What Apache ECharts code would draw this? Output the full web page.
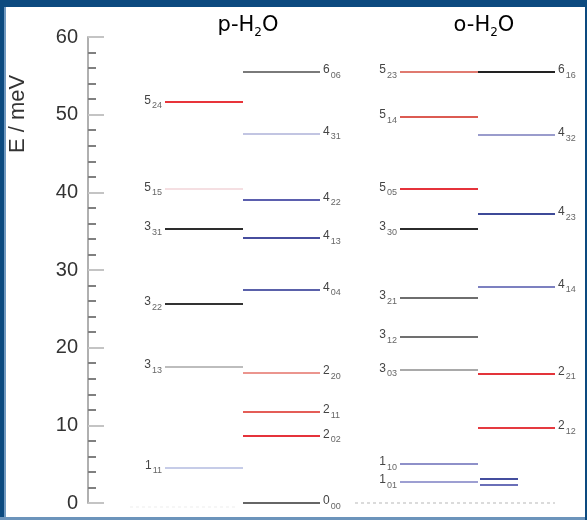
<!DOCTYPE html>
<html>
<head>
<meta charset="utf-8">
<script src="https://cdn.jsdelivr.net/npm/echarts@6/dist/echarts.min.js"></script>
<style>
html,body{margin:0;padding:0;background:#fff;}
#chart{width:587px;height:520px;}
</style>
</head>
<body>
<div id="chart"></div>
<script>
// ---------- DATA ----------
var yTicks = [0, 10, 20, 30, 40, 50, 60];
var paraLeftLabels = ['5_24', '5_15', '3_31', '3_22', '3_13', '1_11'];
var paraLeftE      = [51.6, 40.4, 35.3, 25.6, 17.5, 4.6];
var paraRightLabels = ['6_06', '4_31', '4_22', '4_13', '4_04', '2_20', '2_11', '2_02', '0_00'];
var paraRightE      = [55.5, 47.6, 39.1, 34.1, 27.5, 16.8, 11.7, 8.6, 0];
var orthoLeftLabels = ['5_23', '5_14', '5_05', '3_30', '3_21', '3_12', '3_03', '1_10', '1_01'];
var orthoLeftE      = [55.5, 49.7, 40.4, 35.3, 26.4, 21.4, 17.1, 5.0, 2.7];
var orthoRightLabels = ['6_16', '4_32', '4_23', '4_14', '2_21', '2_12'];
var orthoRightE      = [55.5, 47.4, 37.2, 27.9, 16.7, 9.7];
var orthoSplitE = [3.1, 2.4];
var zeroE = 0;

// ---------- STYLE ----------
var paraLeftColors  = ['#e8343a', '#f5dfe2', '#2d2d2d', '#333333', '#bdbdbd', '#c6cce8'];
var paraRightColors = ['#7a7a7a', '#c2c5e2', '#5b5fae', '#474d9e', '#5a61aa', '#eb958e', '#e45d57', '#e5333b', '#666666'];
var orthoLeftColors = ['#e07a70', '#dc5b52', '#e5333b', '#2b2b2b', '#6e6e6e', '#707070', '#a9a9a9', '#8e90c9', '#9d9fd2'];
var orthoRightColors = ['#222222', '#9a9ccc', '#3e4a98', '#7c80c0', '#e3343a', '#e53a40'];
var orthoSplitColors = ['#444e9e', '#6a6fb8'];

// column extents in the hidden x scale (layout)
var COL = {
  pl: [165, 243],
  pr: [243, 320],
  ol: [400, 478],
  or: [478, 555],
  split: [480, 518]
};

function lab(s) {
  var p = s.split('_');
  return '{n|' + p[0] + '}{s|' + p[1] + '}';
}

var richLab = {
  n: { fontSize: 12, color: '#444', fontFamily: 'Liberation Sans', lineHeight: 16, verticalAlign: 'top' },
  s: { fontSize: 9, color: '#666', fontFamily: 'Liberation Sans', lineHeight: 16, verticalAlign: 'bottom', padding: [6, 0, 0, 1] }
};

function buildItems(labels, energies, colors, ext, side) {
  return energies.map(function (e, i) {
    var item = {
      coords: [[ext[0], e], [ext[1], e]],
      lineStyle: { color: colors[i], width: 2, type: 'solid', opacity: 1 }
    };
    if (labels) {
      item.label = {
        show: true,
        position: side,
        distance: 3,
        formatter: lab(labels[i]),
        rich: richLab
      };
    } else {
      item.label = { show: false };
    }
    return item;
  });
}

var data = []
  .concat(buildItems(paraLeftLabels, paraLeftE, paraLeftColors, COL.pl, 'start'))
  .concat(buildItems(paraRightLabels, paraRightE, paraRightColors, COL.pr, 'end'))
  .concat(buildItems(orthoLeftLabels, orthoLeftE, orthoLeftColors, COL.ol, 'start'))
  .concat(buildItems(orthoRightLabels, orthoRightE, orthoRightColors, COL.or, 'end'))
  .concat(buildItems(null, orthoSplitE, orthoSplitColors, COL.split, 'end'));

var dotted = [
  { coords: [[355, zeroE], [555, zeroE]], lineStyle: { color: '#b8b8b8', width: 2, type: [3, 3] }, label: { show: false } },
  { coords: [[130, zeroE - 0.5], [235, zeroE - 0.5]], lineStyle: { color: '#eeeeee', width: 2, type: [3, 3] }, label: { show: false } }
];

var chart = echarts.init(document.getElementById('chart'), null, { renderer: 'canvas' });

var titleRich = {
  a: { fontSize: 21, color: '#666', fontFamily: 'DejaVu Sans', lineHeight: 26 },
  b: { fontSize: 12, color: '#666', fontFamily: 'DejaVu Sans', lineHeight: 26, verticalAlign: 'bottom', padding: [9, 0, 0, 0] }
};

chart.setOption({
  animation: false,
  backgroundColor: '#ffffff',
  grid: { left: 88, right: 0, top: 37, bottom: 17 },
  xAxis: { type: 'value', min: 88, max: 587, show: false },
  yAxis: {
    type: 'value', min: yTicks[0], max: yTicks[yTicks.length - 1], interval: 10,
    axisLine: { show: true, lineStyle: { color: '#b0b0b0', width: 2 } },
    axisTick: { show: true, inside: true, length: 16, lineStyle: { color: '#c4c4c4', width: 2 } },
    minorTick: { show: true, splitNumber: 5, length: 8, lineStyle: { color: '#808080', width: 2 } },
    splitLine: { show: false },
    axisLabel: { color: '#333', fontSize: 20, fontFamily: 'Liberation Sans', margin: 10 }
  },
  series: [{
    type: 'lines',
    coordinateSystem: 'cartesian2d',
    polyline: false,
    silent: true,
    clip: false,
    symbol: 'none',
    data: dotted.concat(data)
  }],
  graphic: [
    { type: 'rect', shape: { x: 0, y: 0, width: 587, height: 7 }, style: { fill: '#0c4a7f' }, z: 100 },
    { type: 'rect', shape: { x: 0, y: 0, width: 4, height: 520 }, style: { fill: '#0c4a7f' }, z: 100 },
    { type: 'rect', shape: { x: 4, y: 7, width: 2, height: 513 }, style: { fill: '#7099c0' }, z: 100 },
    { type: 'rect', shape: { x: 0, y: 517, width: 587, height: 3 }, style: { fill: '#6c94bb' }, z: 100 },
    { type: 'rect', shape: { x: 585, y: 0, width: 2, height: 520 }, style: { fill: '#0c4a7f' }, z: 100 },
    { type: 'text', x: 248, y: 26, style: { text: '{a|p-H}{b|2}{a|O}', rich: titleRich, align: 'center', verticalAlign: 'middle' } },
    { type: 'text', x: 484, y: 26, style: { text: '{a|o-H}{b|2}{a|O}', rich: titleRich, align: 'center', verticalAlign: 'middle' } },
    { type: 'text', x: 18, y: 114, rotation: Math.PI / 2, style: { text: 'E / meV', fontSize: 22, fill: '#333', fontFamily: 'Liberation Sans', align: 'center', verticalAlign: 'middle' } }
  ]
});
</script>
</body>
</html>
